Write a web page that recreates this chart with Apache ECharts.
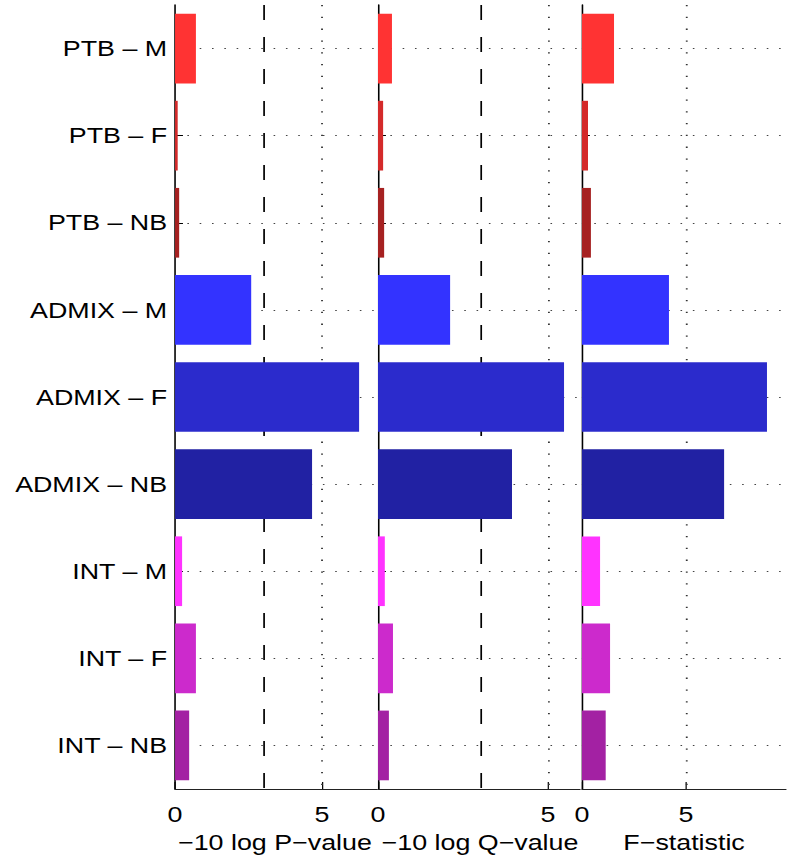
<!DOCTYPE html>
<html>
<head>
<meta charset="utf-8">
<script src="https://cdn.jsdelivr.net/npm/echarts@6/dist/echarts.min.js"></script>
<style>
html,body{margin:0;padding:0;background:#fff;overflow:hidden;}
#chart{width:646px;height:860px;transform:scaleX(1.2198);transform-origin:0 0;}
</style>
</head>
<body>
<div id="chart"></div>
<script>
const categories = ['PTB – M','PTB – F','PTB – NB','ADMIX – M','ADMIX – F','ADMIX – NB','INT – M','INT – F','INT – NB'];
const pValues = [0.71,0.09,0.14,2.59,6.26,4.66,0.24,0.71,0.48];
const qValues = [0.41,0.15,0.18,2.12,5.47,3.94,0.20,0.44,0.32];
const fValues = [1.54,0.29,0.43,4.18,8.89,6.83,0.87,1.35,1.14];
const barColors = ['#FF3333','#D42A2A','#A62121','#3333FF','#2B2BCC','#2121A3','#FF33FF','#CC2ACC','#A321A3'];
const panelNames = ['−10 log P−value','−10 log Q−value','F−statistic'];
const xTicks = [0,5];
const xMax = [6.87,5.94,9.8];
const threshold = 3.01;

const panelValues = [pValues,qValues,fValues];
const gridLeft = [143.5,309.9,477.1];
const gridWidth = [165.6,165.6,167.2];
const nameCenter = [225.4,393.5,560.8];
const FONT = 'Liberation Sans';

const chart = echarts.init(document.getElementById('chart'), null, {renderer:'svg'});

const grids = [], xAxes = [], yAxes = [], series = [], graphics = [];
for (let i = 0; i < 3; i++) {
  grids.push({left:gridLeft[i], width:gridWidth[i], top:5, bottom:71, containLabel:false});
  xAxes.push({
    type:'value', gridIndex:i, min:0, max:xMax[i], interval:5,
    axisLine:{show:true, lineStyle:{color:'#222', width:1.2}},
    axisTick:{show:true, inside:true, length:7, customValues:xTicks, lineStyle:{color:'#000', width:1}},
    axisLabel:{show:true, customValues:xTicks, margin:14, color:'#000', fontFamily:FONT, fontSize:22},
    splitLine:{show:false}
  });
  yAxes.push({
    type:'category', gridIndex:i, data:categories, inverse:true,
    axisLine:{show:true, lineStyle:{color:'#000', width:1.3}},
    axisTick:{show:true, inside:true, alignWithLabel:true, length:6.5, lineStyle:{color:'#000', width:1}},
    axisLabel:{show:i===0, margin:6.5, color:'#000', fontFamily:FONT, fontSize:22},
    splitLine:{show:false}
  });
  const mlData = categories.map(c => ({yAxis:c, lineStyle:{type:[1.3,8.8], color:'#444', width:1.2}}));
  mlData.push({xAxis:5, lineStyle:{type:[1.3,10.5], color:'#333', width:1.5}});
  if (i < 2) mlData.push({xAxis:threshold, lineStyle:{type:[15,17], color:'#000', width:1.4}});
  series.push({
    type:'bar', xAxisIndex:i, yAxisIndex:i, z:2,
    data:panelValues[i].map((v,k)=>({value:v, itemStyle:{color:barColors[k]}})),
    barWidth:'80%',
    silent:true,
    animation:false,
    markLine:{z:1, silent:true, symbol:['none','none'], label:{show:false}, animation:false, data:mlData}
  });
  graphics.push({type:'text', x:nameCenter[i], y:831,
    style:{text:panelNames[i], font:'22px "'+FONT+'"', fill:'#000', textAlign:'center', textVerticalAlign:'top'}});
}

chart.setOption({
  animation:false,
  backgroundColor:'#fff',
  grid:grids, xAxis:xAxes, yAxis:yAxes, series:series,
  graphic:graphics
});
</script>
</body>
</html>
